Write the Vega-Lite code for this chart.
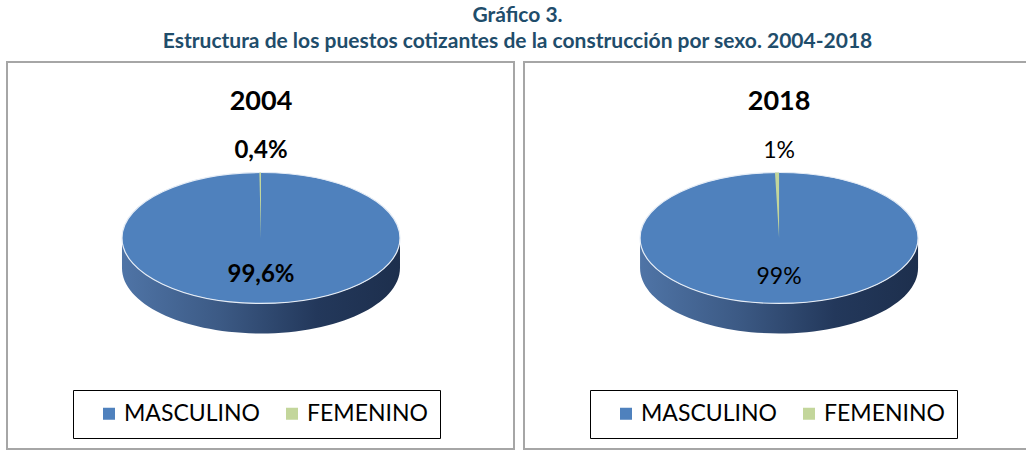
{
  "$schema": "https://vega.github.io/schema/vega-lite/v6.json",
  "padding": {"left": 6, "top": 5, "right": 0, "bottom": 0},
  "background": "#ffffff",
  "title": {
    "text": ["Gráfico 3.", "Estructura de los puestos cotizantes de la construcción por sexo. 2004-2018"],
    "anchor": "middle",
    "font": "Lato",
    "fontSize": 21,
    "fontWeight": "bold",
    "color": "#1f4d6b",
    "lineHeight": 26,
    "offset": 9
  },
  "datasets": {
    "pie": [
      {"year": "2004", "sexo": "MASCULINO", "pct": 99.6, "label": "99,6%"},
      {"year": "2004", "sexo": "FEMENINO", "pct": 0.4, "label": "0,4%"},
      {"year": "2018", "sexo": "MASCULINO", "pct": 99, "label": "99%"},
      {"year": "2018", "sexo": "FEMENINO", "pct": 1, "label": "1%"}
    ]
  },
  "data": {"name": "pie"},
  "spacing": 8,
  "hconcat": [
    {
      "width": 507,
      "height": 387,
      "transform": [{"filter": "datum.year == '2004'"}],
      "layer": [
        {
          "transform": [{"filter": "datum.sexo == 'MASCULINO'"}],
          "mark": {"type": "point", "shape": "M -1 0 L -1 0.216 A 1 0.471 0 0 0 1 0.216 L 1 0 A 1 0.471 0 0 1 -1 0 Z", "size": 77284, "filled": true, "opacity": 1, "strokeWidth": 0,
            "fill": {"gradient": "linear", "x1": 0, "y1": 0, "x2": 1, "y2": 0, "stops": [{"offset": 0, "color": "#4f74a6"}, {"offset": 0.35, "color": "#3c5a85"}, {"offset": 0.7, "color": "#23385b"}, {"offset": 1, "color": "#1d2f4d"}]}},
          "encoding": {
            "x": {"datum": 0, "type": "quantitative", "scale": {"domain": [-1.827, 1.82], "nice": false, "zero": false}, "axis": null},
            "y": {"datum": 0, "type": "quantitative", "scale": {"domain": [-1.518, 1.266], "nice": false, "zero": false}, "axis": null}
          }
        },
        {
          "transform": [{"filter": "datum.sexo == 'MASCULINO'"}],
          "mark": {"type": "point", "shape": "M -1 0 A 1 0.471 0 1 1 1 0 A 1 0.471 0 1 1 -1 0 Z", "size": 77284, "filled": true, "opacity": 1, "stroke": "#e6edf6", "strokeWidth": 1.2},
          "encoding": {
            "x": {"datum": 0, "type": "quantitative", "axis": null},
            "y": {"datum": 0, "type": "quantitative", "axis": null},
            "color": {"field": "sexo", "type": "nominal", "scale": {"domain": ["MASCULINO", "FEMENINO"], "range": ["#4f81bd", "#c3d69b"]},
              "legend": {"orient": "none", "legendX": 66, "legendY": 328, "direction": "horizontal", "title": null, "symbolType": "square", "symbolSize": 144, "symbolStrokeWidth": 0, "symbolOpacity": 1, "labelFont": "Lato", "labelFontSize": 23, "labelColor": "#000000", "columnPadding": 8, "symbolOffset": 12.5, "labelOffset": 3.5, "padding": 12, "strokeColor": "#000000"}}
          }
        },
        {
          "mark": {"type": "arc", "outerRadius": 65.5, "innerRadius": 0, "color": "#c3d69b"},
          "encoding": {
            "x": {"datum": 0, "type": "quantitative", "axis": null},
            "y": {"datum": 0, "type": "quantitative", "axis": null},
            "theta": {"field": "pct", "type": "quantitative", "stack": true},
            "order": {"field": "sexo", "sort": "descending"},
            "opacity": {"condition": {"test": "datum.sexo == 'MASCULINO'", "value": 0}, "value": 1}
          }
        },
        {
          "transform": [{"filter": "datum.sexo == 'MASCULINO'"}],
          "mark": {"type": "text", "font": "Lato", "fontSize": 27, "fontWeight": "bold", "color": "#000000", "baseline": "middle", "align": "center"},
          "encoding": {
            "x": {"datum": 0, "type": "quantitative", "axis": null},
            "y": {"datum": 0.978, "type": "quantitative", "axis": null},
            "text": {"field": "year"}
          }
        },
        {
          "transform": [{"filter": "datum.sexo == 'FEMENINO'"}],
          "mark": {"type": "text", "font": "Lato", "fontSize": 24, "fontWeight": "bold", "color": "#000000", "baseline": "middle", "align": "center"},
          "encoding": {
            "x": {"datum": 0, "type": "quantitative", "axis": null},
            "y": {"datum": 0.628, "type": "quantitative", "axis": null},
            "text": {"field": "label"}
          }
        },
        {
          "transform": [{"filter": "datum.sexo == 'MASCULINO'"}],
          "mark": {"type": "text", "font": "Lato", "fontSize": 24, "fontWeight": "bold", "color": "#000000", "baseline": "middle", "align": "center"},
          "encoding": {
            "x": {"datum": 0, "type": "quantitative", "axis": null},
            "y": {"datum": -0.266, "type": "quantitative", "axis": null},
            "text": {"field": "label"}
          }
        }
      ]
    },
    {
      "width": 504,
      "height": 387,
      "transform": [{"filter": "datum.year == '2018'"}],
      "layer": [
        {
          "transform": [{"filter": "datum.sexo == 'MASCULINO'"}],
          "mark": {"type": "point", "shape": "M -1 0 L -1 0.216 A 1 0.471 0 0 0 1 0.216 L 1 0 A 1 0.471 0 0 1 -1 0 Z", "size": 77284, "filled": true, "opacity": 1, "strokeWidth": 0,
            "fill": {"gradient": "linear", "x1": 0, "y1": 0, "x2": 1, "y2": 0, "stops": [{"offset": 0, "color": "#4f74a6"}, {"offset": 0.35, "color": "#3c5a85"}, {"offset": 0.7, "color": "#23385b"}, {"offset": 1, "color": "#1d2f4d"}]}},
          "encoding": {
            "x": {"datum": 0, "type": "quantitative", "scale": {"domain": [-1.835, 1.791], "nice": false, "zero": false}, "axis": null},
            "y": {"datum": 0, "type": "quantitative", "scale": {"domain": [-1.518, 1.266], "nice": false, "zero": false}, "axis": null}
          }
        },
        {
          "transform": [{"filter": "datum.sexo == 'MASCULINO'"}],
          "mark": {"type": "point", "shape": "M -1 0 A 1 0.471 0 1 1 1 0 A 1 0.471 0 1 1 -1 0 Z", "size": 77284, "filled": true, "opacity": 1, "stroke": "#e6edf6", "strokeWidth": 1.2},
          "encoding": {
            "x": {"datum": 0, "type": "quantitative", "axis": null},
            "y": {"datum": 0, "type": "quantitative", "axis": null},
            "color": {"field": "sexo", "type": "nominal", "scale": {"domain": ["MASCULINO", "FEMENINO"], "range": ["#4f81bd", "#c3d69b"]},
              "legend": {"orient": "none", "legendX": 66, "legendY": 328, "direction": "horizontal", "title": null, "symbolType": "square", "symbolSize": 144, "symbolStrokeWidth": 0, "symbolOpacity": 1, "labelFont": "Lato", "labelFontSize": 23, "labelColor": "#000000", "columnPadding": 8, "symbolOffset": 12.5, "labelOffset": 3.5, "padding": 12, "strokeColor": "#000000"}}
          }
        },
        {
          "mark": {"type": "arc", "outerRadius": 65.5, "innerRadius": 0, "color": "#c3d69b"},
          "encoding": {
            "x": {"datum": 0, "type": "quantitative", "axis": null},
            "y": {"datum": 0, "type": "quantitative", "axis": null},
            "theta": {"field": "pct", "type": "quantitative", "stack": true},
            "order": {"field": "sexo", "sort": "descending"},
            "opacity": {"condition": {"test": "datum.sexo == 'MASCULINO'", "value": 0}, "value": 1}
          }
        },
        {
          "transform": [{"filter": "datum.sexo == 'MASCULINO'"}],
          "mark": {"type": "text", "font": "Lato", "fontSize": 27, "fontWeight": "bold", "color": "#000000", "baseline": "middle", "align": "center"},
          "encoding": {
            "x": {"datum": 0, "type": "quantitative", "axis": null},
            "y": {"datum": 0.978, "type": "quantitative", "axis": null},
            "text": {"field": "year"}
          }
        },
        {
          "transform": [{"filter": "datum.sexo == 'FEMENINO'"}],
          "mark": {"type": "text", "font": "Lato", "fontSize": 23, "fontWeight": "normal", "color": "#000000", "baseline": "middle", "align": "center"},
          "encoding": {
            "x": {"datum": 0, "type": "quantitative", "axis": null},
            "y": {"datum": 0.628, "type": "quantitative", "axis": null},
            "text": {"field": "label"}
          }
        },
        {
          "transform": [{"filter": "datum.sexo == 'MASCULINO'"}],
          "mark": {"type": "text", "font": "Lato", "fontSize": 23, "fontWeight": "normal", "color": "#000000", "baseline": "middle", "align": "center"},
          "encoding": {
            "x": {"datum": 0, "type": "quantitative", "axis": null},
            "y": {"datum": -0.281, "type": "quantitative", "axis": null},
            "text": {"field": "label"}
          }
        }
      ]
    }
  ],
  "resolve": {
    "scale": {"x": "independent", "y": "independent", "color": "independent", "theta": "independent"},
    "legend": {"color": "independent"}
  },
  "config": {
    "view": {"stroke": "#a6a6a6", "strokeWidth": 2},
    "legend": {"strokeColor": "#000000"}
  }
}
